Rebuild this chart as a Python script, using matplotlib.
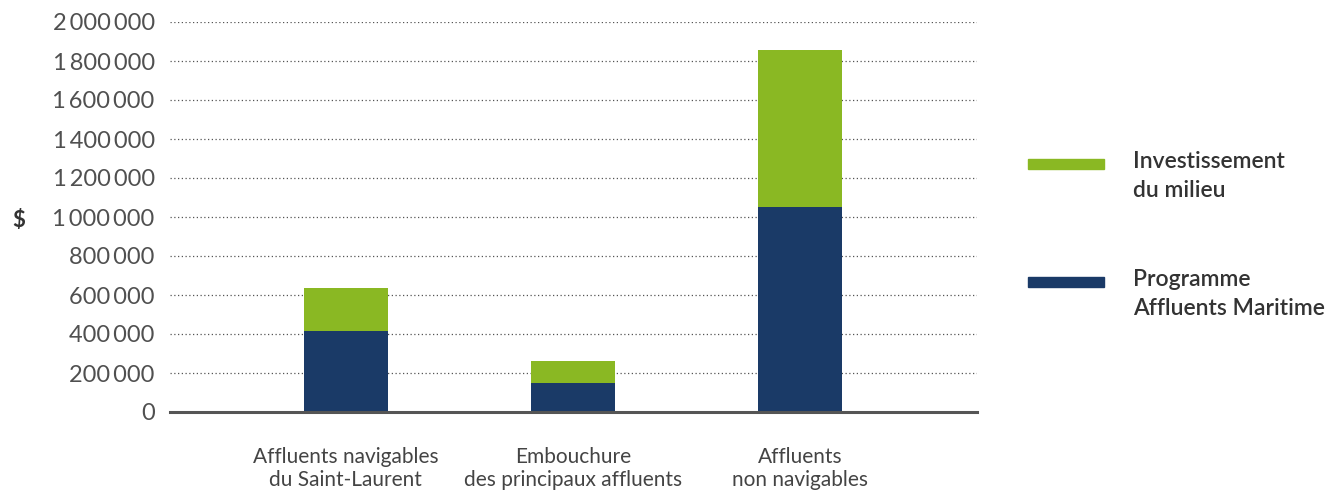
import matplotlib
matplotlib.use('Agg')
import matplotlib.pyplot as plt
from matplotlib.patches import Rectangle
from matplotlib.ticker import FuncFormatter

categories = ['Affluents navigables\ndu Saint-Laurent',
              'Embouchure\ndes principaux affluents',
              'Affluents\nnon navigables']
programme = [415000, 149000, 1051000]
investissement = [221000, 113000, 805000]
series_labels = ['Investissement\ndu milieu', 'Programme\nAffluents Maritime']
y_ticks = [0, 200000, 400000, 600000, 800000, 1000000, 1200000,
           1400000, 1600000, 1800000, 2000000]

GREEN = '#8ab823'
NAVY = '#1a3a67'

plt.rcParams['font.family'] = ['Lato', 'DejaVu Sans']


def fmt(v, pos):
	s = f'{int(v):,}'.replace(',', '\u2009')
	return s


def main():
	fig = plt.figure(figsize=(13.28, 4.91), dpi=100)
	ax = fig.add_axes([170 / 1328, 79 / 491, 807 / 1328, 390 / 491])

	x = list(range(len(categories)))
	ax.bar(x, programme, width=0.37, color=NAVY, zorder=3)
	ax.bar(x, investissement, bottom=programme, width=0.37, color=GREEN, zorder=3)

	ax.set_xlim(-0.775, 2.78)
	ax.set_ylim(0, 2000000)
	ax.set_yticks(y_ticks)
	ax.yaxis.set_major_formatter(FuncFormatter(fmt))
	ax.set_xticks(x)
	ax.set_xticklabels(categories, fontsize=15, color='#444444', linespacing=1.2)

	ax.tick_params(axis='y', length=0, pad=11, labelsize=17, labelcolor='#505050')
	ax.tick_params(axis='x', length=0, pad=25)

	ax.grid(axis='y', linestyle=(0, (1, 2)), color='#555555', linewidth=0.9, zorder=0)
	for s in ['top', 'right', 'left']:
		ax.spines[s].set_visible(False)
	ax.spines['bottom'].set_color('#555555')
	ax.spines['bottom'].set_linewidth(2.2)
	ax.spines['bottom'].set_zorder(4)

	fig.text(12 / 1328, 1 - 221 / 491, '$', fontsize=16, fontweight='bold',
		color='#333333', ha='left', va='center')

	# legend drawn by hand so the patch sits on the first text line
	legend = [(series_labels[0], GREEN, 159), (series_labels[1], NAVY, 277)]
	for label, col, ytop in legend:
		fig.add_artist(Rectangle((1028 / 1328, 1 - (ytop + 10) / 491), 76 / 1328, 10 / 491,
			transform=fig.transFigure, color=col))
		fig.text(1133 / 1328, 1 - (ytop - 8) / 491, label, fontsize=16.5, fontweight='semibold',
			color='#333333', ha='left', va='top', linespacing=1.45)

	fig.savefig('out.png', dpi=100)


if __name__ == '__main__':
	main()
